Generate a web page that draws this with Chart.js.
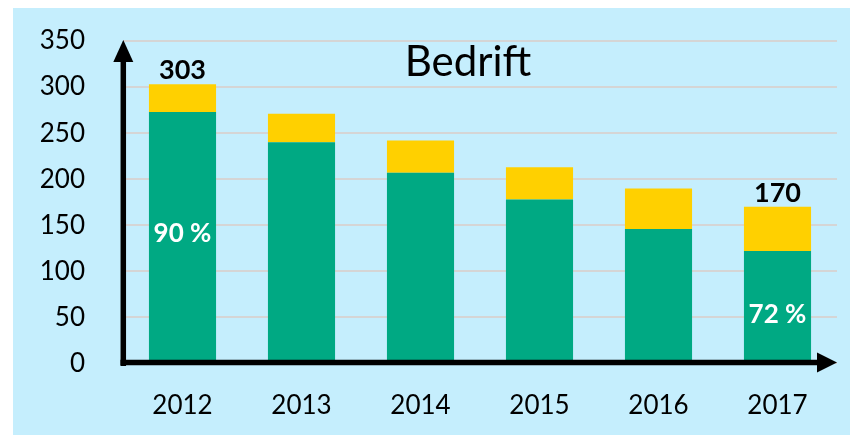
<!DOCTYPE html>
<html><head><meta charset="utf-8">
<script src="https://cdn.jsdelivr.net/npm/chart.js@4"></script>
<style>html,body{margin:0;padding:0;background:#fff;overflow:hidden}canvas{display:block}</style>
</head><body>
<canvas id="c" width="850" height="435"></canvas>
<script>
const years = ['2012','2013','2014','2015','2016','2017'];
const greenValues = [273, 240, 207, 178, 146, 122];
const yellowValues = [30, 31, 35, 35, 44, 48];
const totalLabels = ['303', '', '', '', '', '170'];
const shareLabels = ['90 %', '', '', '', '', '72 %'];
const yTickValues = [0, 50, 100, 150, 200, 250, 300, 350];
const titleText = 'Bedrift';

const FONT = 'Lato, "Open Sans", sans-serif';
const BG = '#C5EEFD';
const GREEN = '#00A983';
const YELLOW = '#FFD000';

const bgPlugin = {
  id: 'bg',
  beforeDraw(chart) {
    const ctx = chart.ctx;
    ctx.save();
    ctx.fillStyle = '#ffffff';
    ctx.fillRect(0, 0, chart.width, chart.height);
    ctx.fillStyle = BG;
    ctx.fillRect(13, 8, chart.width - 13, chart.height - 8);
    ctx.restore();
  }
};

const axesPlugin = {
  id: 'arrowAxes',
  afterDatasetsDraw(chart) {
    const ctx = chart.ctx;
    const a = chart.chartArea;
    ctx.save();
    ctx.strokeStyle = '#000';
    ctx.fillStyle = '#000';
    ctx.lineWidth = 5.5;
    ctx.lineCap = 'butt';
    const xv = a.left + 0.3;
    const yh = a.bottom - 1;
    // y axis
    ctx.beginPath();
    ctx.moveTo(xv, a.bottom + 2.5);
    ctx.lineTo(xv, a.top + 18);
    ctx.stroke();
    ctx.beginPath();
    ctx.moveTo(xv, a.top - 1);
    ctx.lineTo(xv - 10, a.top + 21);
    ctx.lineTo(xv + 10, a.top + 21);
    ctx.closePath();
    ctx.fill();
    // x axis
    ctx.beginPath();
    ctx.moveTo(a.left - 2.5, yh);
    ctx.lineTo(a.right - 18, yh);
    ctx.stroke();
    ctx.beginPath();
    ctx.moveTo(a.right, yh);
    ctx.lineTo(a.right - 20, yh - 10);
    ctx.lineTo(a.right - 20, yh + 10);
    ctx.closePath();
    ctx.fill();
    ctx.restore();
  },
  afterDraw(chart) {
    const ctx = chart.ctx;
    const a = chart.chartArea;
    const xs = chart.scales.x, ys = chart.scales.y;
    ctx.save();
    ctx.textAlign = 'center';
    ctx.textBaseline = 'alphabetic';
    // title
    ctx.fillStyle = '#000';
    ctx.font = '42px ' + FONT;
    ctx.fillText(titleText, (a.left + a.right) / 2 - 12, 76);
    // totals
    ctx.font = 'bold 27px ' + FONT;
    years.forEach((y, i) => {
      if (!totalLabels[i]) return;
      const total = greenValues[i] + yellowValues[i];
      ctx.fillText(totalLabels[i], xs.getPixelForValue(i), ys.getPixelForValue(total) - 5);
    });
    // shares
    const shareBaseline = {0: 132, 5: 44};
    ctx.fillStyle = '#fff';
    ctx.font = 'bold 26px ' + FONT;
    years.forEach((y, i) => {
      if (!shareLabels[i]) return;
      ctx.fillText(shareLabels[i], xs.getPixelForValue(i), ys.getPixelForValue(shareBaseline[i]));
    });
    ctx.restore();
  }
};

new Chart(document.getElementById('c'), {
  type: 'bar',
  data: {
    labels: years,
    datasets: [
      { label: 'green', data: greenValues, backgroundColor: GREEN, borderWidth: 0,
        barPercentage: 0.564, categoryPercentage: 1 },
      { label: 'yellow', data: yellowValues, backgroundColor: YELLOW, borderWidth: 0,
        barPercentage: 0.564, categoryPercentage: 1 }
    ]
  },
  options: {
    responsive: false,
    animation: false,
    devicePixelRatio: 1,
    layout: { padding: { top: 41, right: 13, bottom: 0, left: 0 } },
    plugins: { legend: { display: false }, tooltip: { enabled: false }, title: { display: false } },
    scales: {
      x: {
        stacked: true,
        grid: { display: false, drawTicks: false },
        border: { display: false },
        ticks: { color: '#000', font: { family: FONT, size: 26 }, padding: 27, maxRotation: 0 },
        afterFit(s) { s.height = 71.6; }
      },
      y: {
        stacked: true,
        min: 0, max: 350,
        afterBuildTicks(s) { s.ticks = yTickValues.map(v => ({ value: v })); },
        grid: { color: '#D5D5D5', lineWidth: 2, drawTicks: false },
        border: { display: false },
        ticks: { color: '#000', font: { family: FONT, size: 26 }, padding: 38 },
        afterFit(s) { s.width = 123; s.paddingTop = 0; s.paddingBottom = 0; }
      }
    }
  },
  plugins: [bgPlugin, axesPlugin]
});
</script>
</body></html>
